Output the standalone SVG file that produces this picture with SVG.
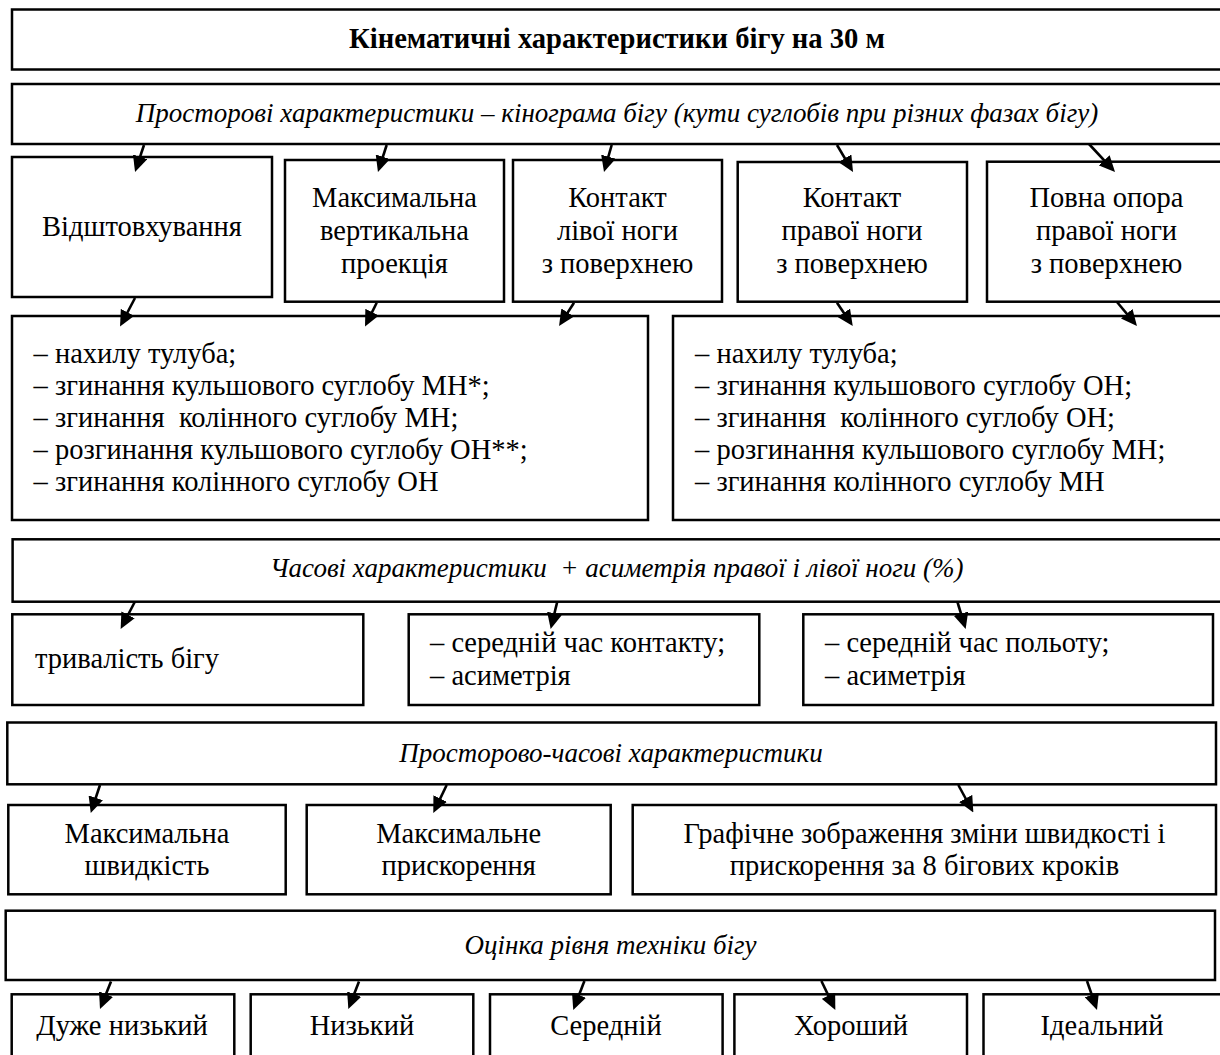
<svg xmlns="http://www.w3.org/2000/svg" width="1220" height="1055" viewBox="0 0 1220 1055">
<defs>
<style>
.b{fill:#fff;stroke:#000;stroke-width:2.5}
.t{font-family:"Liberation Serif","Times New Roman",serif;font-size:28.5px;fill:#000}
.c{text-anchor:middle}
.i{font-style:italic;font-size:27px}
.h{font-weight:bold;font-size:28.6px}
.a{stroke:#000;stroke-width:2.6;fill:none;marker-end:url(#ah)}
</style>
<marker id="ah" viewBox="0 0 16 15" refX="12" refY="7.5" markerUnits="userSpaceOnUse" markerWidth="16" markerHeight="15" orient="auto">
<path d="M0,0 L16,7.5 L0,15 z" fill="#000"/>
</marker>
</defs>
<rect width="1220" height="1055" fill="#fff"/>

<g id="n-title"><rect class="b" x="12" y="9.5" width="1210" height="60"/><text class="t c h" x="617" y="48.3">Кінематичні характеристики бігу на 30 м</text></g>
<g id="n-spatial"><rect class="b" x="12" y="84" width="1210" height="60"/><text class="t c i" x="617" y="121.7">Просторові характеристики – кінограма бігу (кути суглобів при різних фазах бігу)</text></g>

<g id="n-push"><rect class="b" x="12" y="157" width="260" height="140"/><text class="t c" x="142" y="236">Відштовхування</text></g>
<g id="n-maxvert"><rect class="b" x="285" y="160" width="219" height="141.7"/><text class="t c" x="394.5"><tspan x="394.5" y="207">Максимальна</tspan><tspan x="394.5" y="240">вертикальна</tspan><tspan x="394.5" y="272.5">проекція</tspan></text></g>
<g id="n-left"><rect class="b" x="513" y="160" width="209" height="141.7"/><text class="t c"><tspan x="617.5" y="207">Контакт</tspan><tspan x="617.5" y="240">лівої ноги</tspan><tspan x="617.5" y="272.7">з поверхнею</tspan></text></g>
<g id="n-right"><rect class="b" x="737.7" y="162" width="229.3" height="139.7"/><text class="t c"><tspan x="852" y="207">Контакт</tspan><tspan x="852" y="240">правої ноги</tspan><tspan x="852" y="273">з поверхнею</tspan></text></g>
<g id="n-full"><rect class="b" x="987" y="161.7" width="240" height="140"/><text class="t c"><tspan x="1106.5" y="207">Повна опора</tspan><tspan x="1106.5" y="240">правої ноги</tspan><tspan x="1106.5" y="273">з поверхнею</tspan></text></g>

<g id="n-list1"><rect class="b" x="12" y="316" width="636" height="204"/><text class="t"><tspan x="33.6" y="363">– нахилу тулуба;</tspan><tspan x="33.6" y="395">– згинання кульшового суглобу МН*;</tspan><tspan x="33.6" y="427">– згинання&#160; колінного суглобу МН;</tspan><tspan x="33.6" y="459">– розгинання кульшового суглобу ОН**;</tspan><tspan x="33.6" y="491">– згинання колінного суглобу ОН</tspan></text></g>
<g id="n-list2"><rect class="b" x="673" y="316" width="554" height="204"/><text class="t"><tspan x="695" y="363">– нахилу тулуба;</tspan><tspan x="695" y="395">– згинання кульшового суглобу ОН;</tspan><tspan x="695" y="427">– згинання&#160; колінного суглобу ОН;</tspan><tspan x="695" y="459">– розгинання кульшового суглобу МН;</tspan><tspan x="695" y="491">– згинання колінного суглобу МН</tspan></text></g>

<g id="n-time"><rect class="b" x="12.6" y="539.3" width="1209.4" height="62.4"/><text class="t c i" x="616.7" y="576.7">Часові характеристики&#160; + асиметрія правої і лівої ноги (%)</text></g>
<g id="n-duration"><rect class="b" x="12.3" y="614.3" width="351" height="90.7"/><text class="t" x="35" y="668.3">тривалість бігу</text></g>
<g id="n-contact"><rect class="b" x="408.7" y="614.3" width="350.6" height="90.7"/><text class="t"><tspan x="430" y="651.7">– середній час контакту;</tspan><tspan x="430" y="685">– асиметрія</tspan></text></g>
<g id="n-flight"><rect class="b" x="803.3" y="614.3" width="409.7" height="90.7"/><text class="t"><tspan x="825" y="651.7">– середній час польоту;</tspan><tspan x="825" y="685">– асиметрія</tspan></text></g>

<g id="n-spacetime"><rect class="b" x="7.3" y="722.5" width="1208.7" height="61.8"/><text class="t c i" x="611" y="761.7">Просторово-часові характеристики</text></g>
<g id="n-maxspeed"><rect class="b" x="8.3" y="805" width="277.4" height="89.3"/><text class="t c"><tspan x="147" y="843.3">Максимальна</tspan><tspan x="147" y="874.5">швидкість</tspan></text></g>
<g id="n-maxacc"><rect class="b" x="306.7" y="805" width="304" height="89.3"/><text class="t c"><tspan x="458.7" y="843.3">Максимальне</tspan><tspan x="458.7" y="874.5">прискорення</tspan></text></g>
<g id="n-graph"><rect class="b" x="632.7" y="805" width="583.3" height="89.3"/><text class="t c"><tspan x="924.5" y="843.3">Графічне зображення зміни швидкості і</tspan><tspan x="924.5" y="874.5">прискорення за 8 бігових кроків</tspan></text></g>

<g id="n-assess"><rect class="b" x="5.7" y="910.7" width="1209.3" height="69.3"/><text class="t c i" x="610.5" y="953.7">Оцінка рівня техніки бігу</text></g>
<g id="n-l1"><rect class="b" x="11.7" y="994.3" width="222.6" height="70"/><text class="t c" x="122" y="1035">Дуже низький</text></g>
<g id="n-l2"><rect class="b" x="250.7" y="994.3" width="222.6" height="70"/><text class="t c" x="362" y="1035">Низький</text></g>
<g id="n-l3"><rect class="b" x="490" y="994.3" width="232.6" height="70"/><text class="t c" x="606" y="1035">Середній</text></g>
<g id="n-l4"><rect class="b" x="734.4" y="994.3" width="232.6" height="70"/><text class="t c" x="851" y="1035">Хороший</text></g>
<g id="n-l5"><rect class="b" x="983.5" y="994.3" width="238" height="70"/><text class="t c" x="1102" y="1035">Ідеальний</text></g>

<g id="connectors">
<line class="a" x1="144" y1="145" x2="136.3" y2="168.2"/>
<line class="a" x1="386.7" y1="145" x2="379.2" y2="168.2"/>
<line class="a" x1="611.7" y1="145" x2="605.1" y2="168.2"/>
<line class="a" x1="837" y1="145" x2="851" y2="168.6"/>
<line class="a" x1="1089" y1="144" x2="1112.3" y2="169.1"/>
<line class="a" x1="135" y1="298" x2="121.9" y2="323"/>
<line class="a" x1="376.7" y1="302.7" x2="366.8" y2="322.9"/>
<line class="a" x1="574" y1="302.7" x2="561.2" y2="322.6"/>
<line class="a" x1="837" y1="302.7" x2="850.5" y2="322.7"/>
<line class="a" x1="1117" y1="302" x2="1134.4" y2="322.9"/>
<line class="a" x1="135" y1="601.5" x2="122.5" y2="625.5"/>
<line class="a" x1="557.3" y1="601.5" x2="551.6" y2="625.1"/>
<line class="a" x1="957.3" y1="601.5" x2="964.5" y2="625.2"/>
<line class="a" x1="100" y1="785" x2="92" y2="809.2"/>
<line class="a" x1="446.7" y1="785" x2="435" y2="809.4"/>
<line class="a" x1="958.3" y1="785" x2="971.4" y2="809"/>
<line class="a" x1="111" y1="981.5" x2="101.5" y2="1005.3"/>
<line class="a" x1="359" y1="981.5" x2="349.8" y2="1005.3"/>
<line class="a" x1="584.4" y1="981" x2="574.7" y2="1006.3"/>
<line class="a" x1="821.4" y1="981" x2="833.6" y2="1006.4"/>
<line class="a" x1="1087" y1="981" x2="1095.7" y2="1006.2"/>
</g>
</svg>
